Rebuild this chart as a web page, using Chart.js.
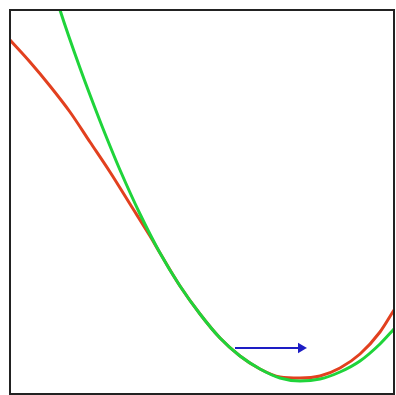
<!DOCTYPE html>
<html>
<head>
<meta charset="utf-8">
<style>
  html, body { margin: 0; padding: 0; background: #fff; }
  #wrap { width: 396px; height: 395px; }
</style>
<script src="https://cdn.jsdelivr.net/npm/chart.js@4"></script>
</head>
<body>
<div id="wrap"><canvas id="c" width="396" height="395"></canvas></div>
<script>
// values, in plot units (0..384 both ways)
const redX   = [0, 20, 40, 60, 80, 100, 120, 140, 150, 170, 190, 210, 230, 250, 270, 290, 310, 330, 350, 370, 384];
const redY   = [354, 332, 308, 282, 252, 222, 190, 158, 141, 108, 80, 56, 38, 25, 17, 16, 18, 26, 40, 62, 84];

const greenX = [44, 50, 70, 90, 100, 110, 130, 150, 170, 190, 210, 230, 250, 270, 290, 310, 330, 350, 370, 384];
const greenY = [404, 384, 326, 273, 248, 224, 180, 141, 108, 80, 56, 38, 25, 16, 13, 15, 22, 33, 50, 65];

// newton-ish step arrow
const arrowX = [225, 291];
const arrowY = [46, 46];

const pts = (xs, ys) => xs.map((x, i) => ({ x, y: ys[i] }));

const frame = {
  id: 'frame',
  afterDraw(chart) {
    const { ctx, chartArea: a } = chart;
    ctx.save();
    ctx.strokeStyle = '#222';
    ctx.lineWidth = 2;
    ctx.strokeRect(a.left, a.top, a.right - a.left, a.bottom - a.top);
    ctx.restore();
  },
};

// chart.js paints dataset 0 last, so the arrow sits on top and red at the bottom
new Chart(document.getElementById('c'), {
  type: 'line',
  data: {
    datasets: [
      {
        data:        pts(arrowX, arrowY),
        borderColor: '#1d1dc4',
        backgroundColor: '#1d1dc4',
        borderWidth: 2,
        pointRadius: [0, 4],
        pointStyle:  'triangle',
        pointRotation: 90,
        clip: 0,
      },
      {
        data:        pts(greenX, greenY),
        borderColor: '#1fd43a',
        borderWidth: 3,
        pointRadius: 0,
        cubicInterpolationMode: 'monotone',
        clip: 0,
      },
      {
        data:        pts(redX, redY),
        borderColor: '#e2401f',
        borderWidth: 3,
        pointRadius: 0,
        cubicInterpolationMode: 'monotone',
        clip: 0,
      },
    ],
  },
  options: {
    responsive: false,
    animation: false,
    layout: { autoPadding: false, padding: { left: 10, top: 10, right: 2, bottom: 1 } },
    plugins: {
      legend:  { display: false },
      tooltip: { enabled: false },
    },
    scales: {
      x: { type: 'linear', min: 0, max: 384, display: false },
      y: { type: 'linear', min: 0, max: 384, display: false },
    },
  },
  plugins: [frame],
});
</script>
</body>
</html>
